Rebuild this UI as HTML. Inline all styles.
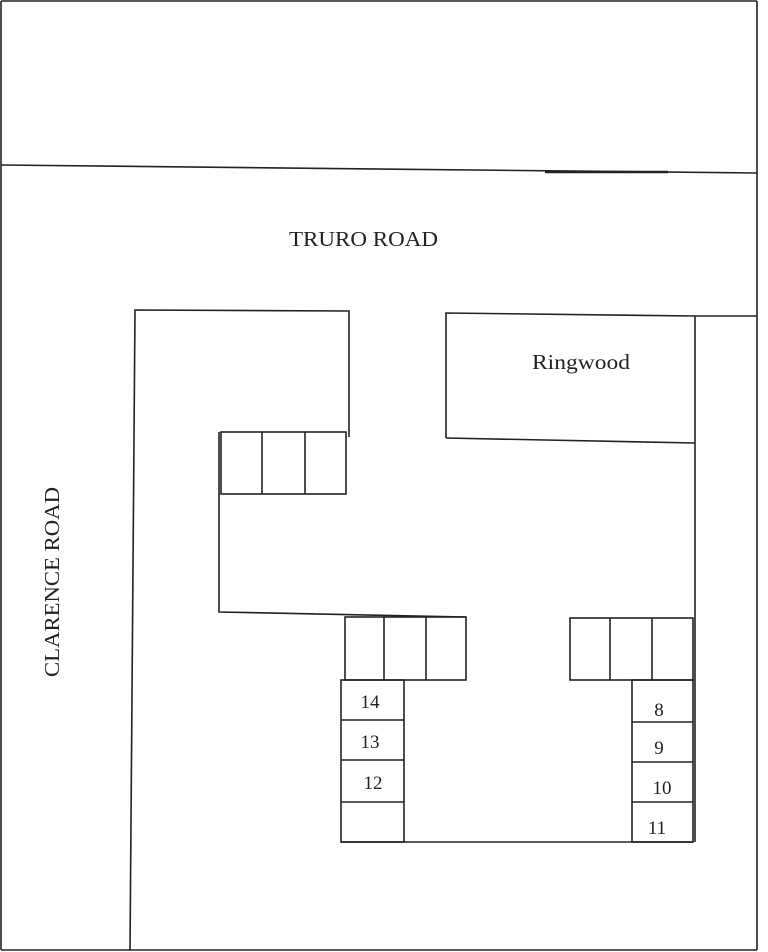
<!DOCTYPE html>
<html><head><meta charset="utf-8"><style>
html,body{margin:0;padding:0;background:#fff;}
svg{display:block;}
text{font-family:"Liberation Serif",serif;fill:#222;}
</style></head><body>
<svg width="768" height="952" viewBox="0 0 768 952" xmlns="http://www.w3.org/2000/svg">
<g stroke="#222" stroke-width="1.6" fill="none">
<line x1="1" y1="1" x2="757" y2="1"/>
<line x1="1" y1="1" x2="1" y2="950"/>
<line x1="757" y1="1" x2="757" y2="950"/>
<line x1="1" y1="950" x2="757" y2="950"/>
<line x1="1" y1="165" x2="757" y2="173"/>
<line x1="545" y1="172" x2="668" y2="172" stroke-width="2.5"/>
<polyline points="130,950 135,310 349,311 349,437"/>
<rect x="221" y="432" width="125" height="62"/>
<line x1="262" y1="432" x2="262" y2="494"/>
<line x1="305" y1="432" x2="305" y2="494"/>
<polyline points="219,432 219,612 466,617"/>
<rect x="345" y="617" width="121" height="63"/>
<line x1="384" y1="617" x2="384" y2="680"/>
<line x1="426" y1="617" x2="426" y2="680"/>
<rect x="341" y="680" width="63" height="162"/>
<line x1="341" y1="720" x2="404" y2="720"/>
<line x1="341" y1="760" x2="404" y2="760"/>
<line x1="341" y1="802" x2="404" y2="802"/>
<line x1="341" y1="842" x2="693" y2="842"/>
<rect x="570" y="618" width="123" height="62"/>
<line x1="610" y1="618" x2="610" y2="680"/>
<line x1="652" y1="618" x2="652" y2="680"/>
<rect x="632" y="680" width="61" height="162"/>
<line x1="632" y1="722" x2="693" y2="722"/>
<line x1="632" y1="762" x2="693" y2="762"/>
<line x1="632" y1="802" x2="693" y2="802"/>
<polyline points="446,438 446,313 695,316 757,316"/>
<line x1="446" y1="438" x2="695" y2="443"/>
<line x1="695" y1="316" x2="695" y2="842"/>
</g>
<text x="289" y="246" font-size="21" textLength="149" lengthAdjust="spacingAndGlyphs">TRURO ROAD</text>
<text x="532" y="369" font-size="21" textLength="98" lengthAdjust="spacingAndGlyphs">Ringwood</text>
<text transform="translate(59,677) rotate(-90)" font-size="21" textLength="190" lengthAdjust="spacingAndGlyphs">CLARENCE ROAD</text>
<g font-family="Liberation Sans,sans-serif" font-size="19" text-anchor="middle">
<text x="370" y="708">14</text>
<text x="370" y="748">13</text>
<text x="373" y="789">12</text>
<text x="659" y="716">8</text>
<text x="659" y="754">9</text>
<text x="662" y="794">10</text>
<text x="657" y="834">11</text>
</g>
</svg>
</body></html>
